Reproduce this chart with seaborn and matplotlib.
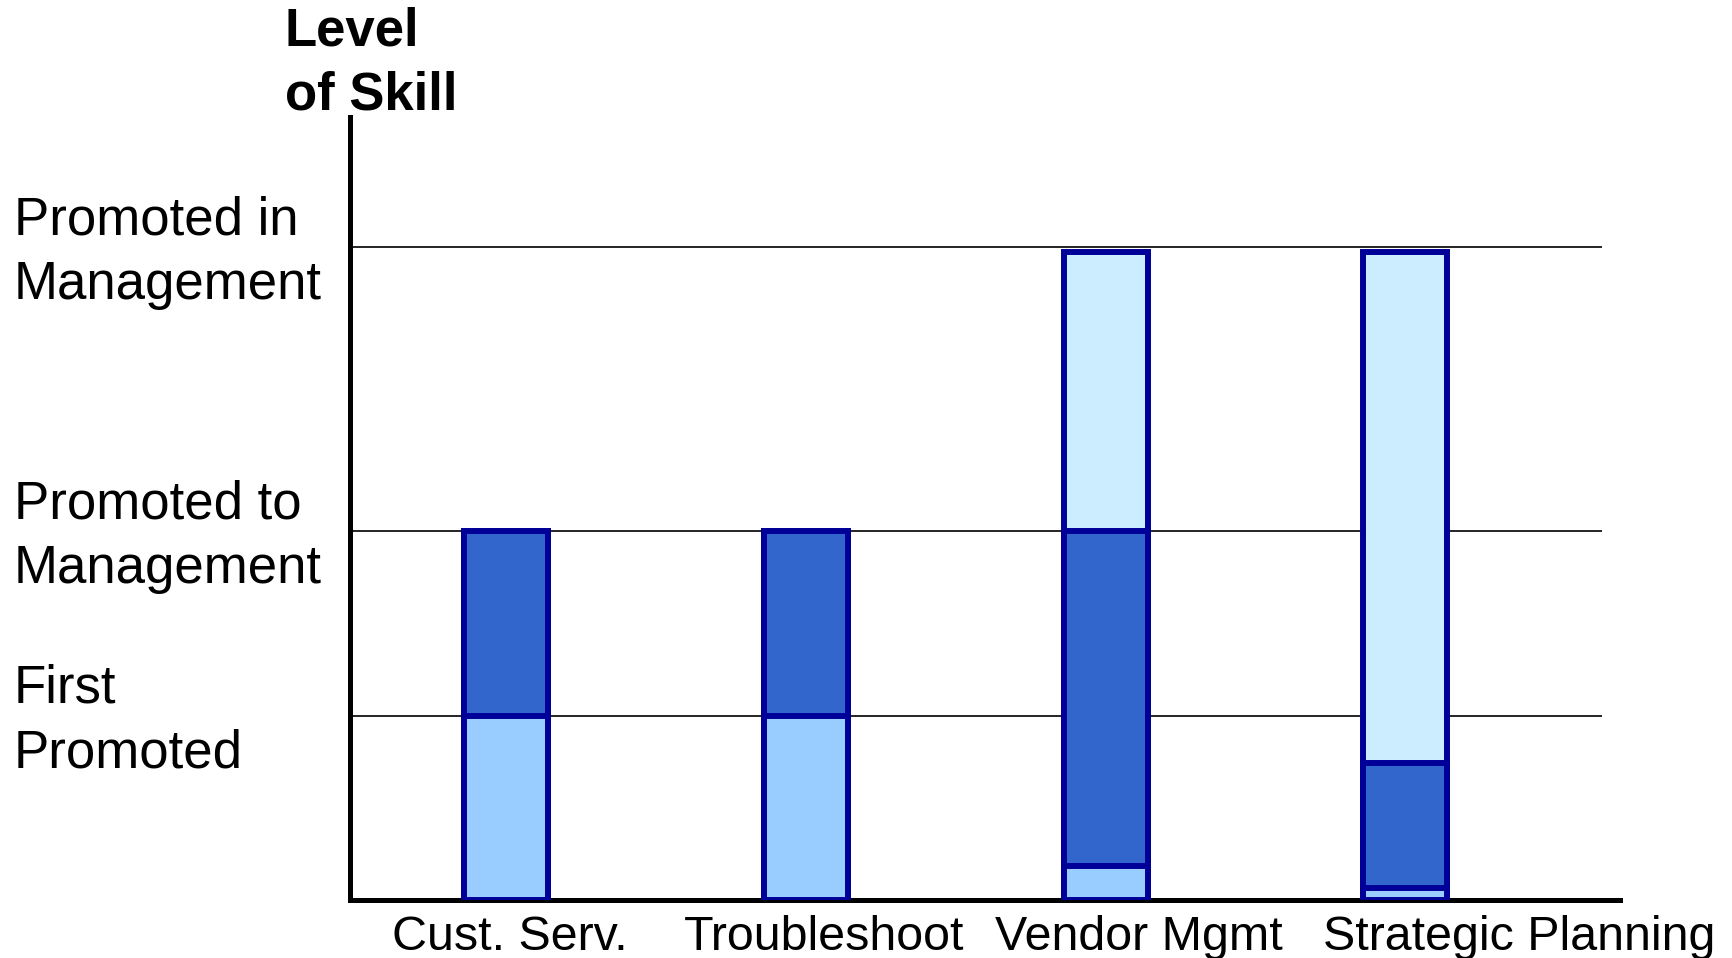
import matplotlib
matplotlib.use("Agg")
import matplotlib.pyplot as plt
import matplotlib.transforms as mtransforms
import seaborn as sns
import pandas as pd

# ---- data ----
categories = ["Cust. Serv.", "Troubleshoot", "Vendor Mgmt", "Strategic Planning"]
base_level = [1.0, 1.0, 0.185, 0.065]     # light blue segment
mid_level = [1.0, 1.0, 1.815, 0.675]      # dark blue segment
top_level = [0.0, 0.0, 1.51, 2.77]        # pale blue segment

level_values = [1.0, 2.0, 3.54]
level_labels = ["First\nPromoted", "Promoted to\nManagement", "Promoted in\nManagement"]
label_offsets = [0.01, 1.06, 2.11, 3.38]  # x label centres (category units)

# ---- style ----
sns.set_style("white")
plt.rcParams["font.family"] = ["Liberation Sans", "DejaVu Sans"]

C_LIGHT = "#99CCFF"
C_DARK = "#3366CC"
C_PALE = "#CCECFF"
C_EDGE = "#000099"

W, H = 1732, 958
fig = plt.figure(figsize=(W / 100, H / 100), dpi=100)
ax = fig.add_axes([350 / W, (H - 900) / H, (1620 - 350) / W, (900 - 117) / H])

cum_base = base_level
cum_mid = [b + m for b, m in zip(base_level, mid_level)]
cum_top = [c + t for c, t in zip(cum_mid, top_level)]

df = pd.DataFrame({"cat": categories, "base": cum_base, "mid": cum_mid, "top": cum_top})

for col, colr in [("top", C_PALE), ("mid", C_DARK), ("base", C_LIGHT)]:
    sns.barplot(data=df, x="cat", y=col, order=categories, color=colr, saturation=1,
                edgecolor=C_EDGE, linewidth=4.3, width=0.28, errorbar=None, ax=ax, zorder=3)

ax.set_xlim(-0.522, 3.717)
ax.set_ylim(0, 4.244)

# horizontal reference lines
ax.hlines(level_values, -0.522, 3.656, color="black", linewidth=1.2, zorder=1)

ax.set_xticks([])
ax.set_yticks([])
ax.set_xlabel("")
ax.set_ylabel("")

for s in ["top", "right"]:
    ax.spines[s].set_visible(False)
for s in ["left", "bottom"]:
    ax.spines[s].set_color("black")
    ax.spines[s].set_linewidth(3.6)
    ax.spines[s].set_zorder(2)

# y level labels (va='baseline' aligns the last line)
ytr = mtransforms.offset_copy(ax.get_yaxis_transform(), fig=fig, x=0, y=-52, units="dots")
for v, lab in zip(level_values, level_labels):
    ax.text(-0.2645, v, lab, transform=ytr, ha="left", va="baseline",
            fontsize=38, linespacing=1.38, color="black")

# x category labels
xtr = ax.get_xaxis_transform()
for xo, lab in zip(label_offsets, categories):
    ax.text(xo, -50 / 783, lab, transform=xtr, ha="center", va="baseline",
            fontsize=34.8, color="black")

# axis title
fig.text(285 / W, 1 - 110 / H, "Level\nof Skill", ha="left", va="baseline",
         fontsize=38, fontweight="bold", linespacing=1.38, color="black")

fig.savefig("out.png", dpi=100, facecolor="white")
